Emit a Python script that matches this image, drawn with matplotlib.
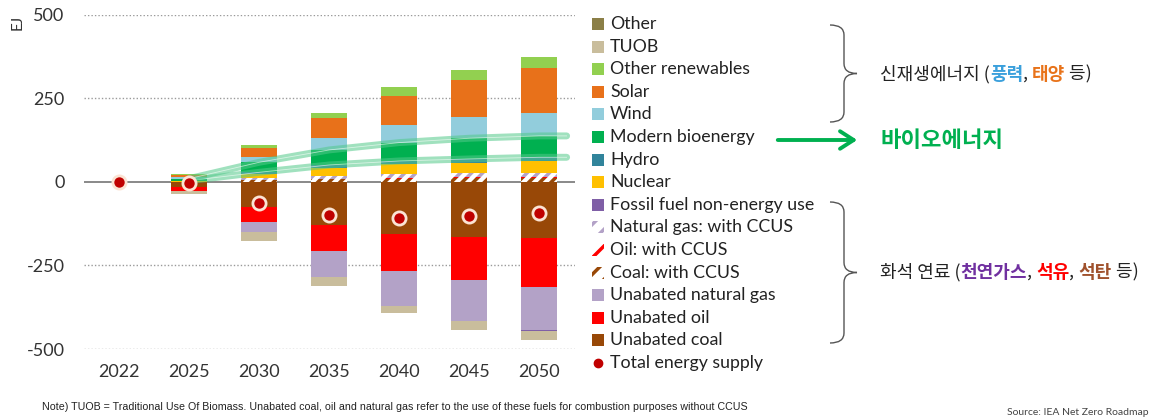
import numpy as np
import matplotlib
matplotlib.use('Agg')
import matplotlib.pyplot as plt
from matplotlib.patches import Rectangle, PathPatch, FancyArrowPatch
from matplotlib.lines import Line2D
from matplotlib.path import Path

plt.rcParams['font.family'] = ['Lato', 'DejaVu Sans']
plt.rcParams['hatch.linewidth'] = 2.5

W, H = 1151, 419

years = ['2022', '2025', '2030', '2035', '2040', '2045', '2050']

# change vs 2022, EJ
other = [0, 0, 0, 0, 0, 0, 0]
tuob = [0, -9, -29, -28, -22, -28, -25]
other_renewables = [0, 3, 8, 17, 25, 30, 32]
solar = [0, 8, 27, 60, 87, 111, 133]
wind = [0, 4, 17, 35, 53, 64, 70]
modern_bio = [0, 6, 30, 45, 55, 62, 64]
hydro = [0, 1, 5, 10, 10, 11, 11]
nuclear = [0, 3, 12, 23, 30, 32, 35]
ff_non_energy = [0, 0, 0, 0, 0, 0, -3]
gas_ccus = [0, 0, 6, 8, 10, 11, 12]
oil_ccus = [0, 0, 1, 2, 3, 3, 4]
coal_ccus = [0, 0, 5, 8, 10, 12, 12]
unabated_gas = [0, 0, -30, -75, -106, -122, -130]
unabated_oil = [0, -12, -44, -80, -109, -130, -145]
unabated_coal = [0, -15, -75, -128, -156, -164, -169]
total_supply = [0, -3, -62, -99, -109, -101, -94]

# (label, values, color, hatched) in stacking order, bottom first
series = [
    ('Unabated coal', unabated_coal, '#984807', False),
    ('Unabated oil', unabated_oil, '#FF0000', False),
    ('Unabated natural gas', unabated_gas, '#B3A2C7', False),
    ('Coal: with CCUS', coal_ccus, '#984807', True),
    ('Oil: with CCUS', oil_ccus, '#FF0000', True),
    ('Natural gas: with CCUS', gas_ccus, '#B3A2C7', True),
    ('Fossil fuel non-energy use', ff_non_energy, '#7F5FA6', False),
    ('Nuclear', nuclear, '#FFC000', False),
    ('Hydro', hydro, '#31849B', False),
    ('Modern bioenergy', modern_bio, '#00B050', False),
    ('Wind', wind, '#92CDDC', False),
    ('Solar', solar, '#E8711A', False),
    ('Other renewables', other_renewables, '#92D050', False),
    ('TUOB', tuob, '#C9BD9C', False),
    ('Other', other, '#8B7F47', False),
]


def fx(px):
    return px / W


def fy(py):
    return 1 - py / H


fig = plt.figure(figsize=(W / 100, H / 100), dpi=100)
ax = fig.add_axes([fx(84), fy(349), (575 - 84) / W, (349 - 15) / H])
renderer = fig.canvas.get_renderer()

x = np.arange(len(years))
pos_base = np.zeros(len(years))
neg_base = np.zeros(len(years))
bio_lo = bio_hi = None
for label, vals, color, hatched in series:
    v = np.array(vals, dtype=float)
    bottom = np.where(v >= 0, pos_base, neg_base)
    if hatched:
        ax.bar(x, v, 0.52, bottom=bottom, facecolor='white', edgecolor=color,
               hatch='///', linewidth=0, zorder=3)
    else:
        ax.bar(x, v, 0.52, bottom=bottom, color=color, linewidth=0, zorder=3)
    if label == 'Modern bioenergy':
        bio_lo = bottom.copy()
        bio_hi = bottom + v
    pos_base = pos_base + np.where(v > 0, v, 0)
    neg_base = neg_base + np.where(v < 0, v, 0)

# bioenergy trace bands from 2025 onwards
bx = np.append(x[1:], 6.39)
for edge in (bio_lo, bio_hi):
    by = np.append(edge[1:], edge[-1])
    ax.plot(bx, by, color='#52C98A', alpha=0.55, lw=5, solid_capstyle='round',
            solid_joinstyle='round', zorder=4)
    ax.plot(bx, by, color='white', alpha=0.6, lw=0.6, zorder=4)

ax.plot(x, total_supply, 'o', ls='none', color='#C00000', ms=9.5,
        mec='#FBE3D3', mew=2, zorder=5)

for v in [500, 250, -250, -500]:
    ax.axhline(v, color='#9A9A9A', lw=1, ls=(0, (1, 1.5)), zorder=0)
ax.axhline(0, color='#808080', lw=1.3, zorder=1)

ax.set_xlim(-0.5, 6.51)
ax.set_ylim(-500, 500)
ax.set_xticks(x)
ax.set_xticklabels(years)
ax.set_yticks([-500, -250, 0, 250, 500])
ax.set_yticklabels(['-500', '-250', '0', '250', '500'])
ax.tick_params(length=0, labelsize=13, colors='#333333')
ax.tick_params(axis='y', pad=14)
ax.tick_params(axis='x', pad=11)
for s in ax.spines.values():
    s.set_visible(False)

fig.text(fx(18), fy(22), 'EJ', rotation=90, fontsize=11, ha='center', va='center',
         color='#333333')

# legend, top to bottom
for i, (label, vals, color, hatched) in enumerate(series[::-1]):
    yc = 24 + 22.6 * i
    if hatched:
        fig.add_artist(Rectangle((fx(592), fy(yc + 6)), 12 / W, 12 / H,
                                 transform=fig.transFigure, facecolor='white',
                                 edgecolor=color, hatch='//', linewidth=0))
    else:
        fig.add_artist(Rectangle((fx(592), fy(yc + 6)), 12 / W, 12 / H,
                                 transform=fig.transFigure, facecolor=color,
                                 linewidth=0))
    fig.text(fx(610), fy(yc), label, fontsize=12.8, va='center', ha='left',
             color='#222222')
yc = 24 + 22.6 * len(series)
fig.add_artist(Line2D([fx(598)], [fy(yc)], marker='o', ms=6, color='#C00000',
                      transform=fig.transFigure))
fig.text(fx(610), fy(yc), 'Total energy supply', fontsize=12.8, va='center',
         ha='left', color='#222222')


def brace(x0, ytop, ybot, w=14, tip=13, r=10):
    ym = (ytop + ybot) / 2
    pts = [(x0, ytop), (x0 + w, ytop), (x0 + w, ytop + r),
           (x0 + w, ym - r), (x0 + w, ym), (x0 + w + tip, ym),
           (x0 + w, ym), (x0 + w, ym + r),
           (x0 + w, ybot - r), (x0 + w, ybot), (x0, ybot)]
    codes = [Path.MOVETO, Path.CURVE3, Path.CURVE3,
             Path.LINETO, Path.CURVE3, Path.CURVE3,
             Path.CURVE3, Path.CURVE3,
             Path.LINETO, Path.CURVE3, Path.CURVE3]
    path = Path([(fx(a), fy(b)) for a, b in pts], codes)
    fig.add_artist(PathPatch(path, transform=fig.transFigure, facecolor='none',
                             edgecolor='#555555', lw=1))


brace(830, 25, 122)
brace(830, 202, 343)

fig.add_artist(FancyArrowPatch(
    (fx(775), fy(140)), (fx(860), fy(140)), transform=fig.transFigure,
    arrowstyle='->,head_length=0.7,head_width=0.45', mutation_scale=14,
    color='#00B050', lw=2.8))

kr = ['Noto Sans CJK KR', 'DejaVu Sans']


def rich_text(x0, yc, parts, size):
    xpos = x0
    for txt, color, weight in parts:
        t = fig.text(fx(xpos), fy(yc), txt, fontsize=size, color=color,
                     fontweight=weight, family=kr, va='center', ha='left')
        xpos += t.get_window_extent(renderer).width


rich_text(880, 74, [('신재생에너지 (', '#222222', 'normal'),
                    ('풍력', '#3BA0DC', 'bold'),
                    (', ', '#222222', 'normal'),
                    ('태양', '#E8731A', 'bold'),
                    (' 등)', '#222222', 'normal')], 13)
rich_text(880, 140, [('바이오에너지', '#00B050', 'bold')], 16)
rich_text(880, 272, [('화석 연료 (', '#222222', 'normal'),
                     ('천연가스', '#7030A0', 'bold'),
                     (', ', '#222222', 'normal'),
                     ('석유', '#FF0000', 'bold'),
                     (', ', '#222222', 'normal'),
                     ('석탄', '#A0522D', 'bold'),
                     (' 등)', '#222222', 'normal')], 13)

# footnote sized to span the chart width
note = fig.text(fx(42), fy(407),
                'Note) TUOB = Traditional Use Of Biomass. Unabated coal, oil and natural gas '
                'refer to the use of these fuels for combustion purposes without CCUS',
                fontsize=9, family=['Liberation Sans', 'DejaVu Sans'],
                va='center', ha='left', color='#222222')
note.set_fontsize(9 * 703 / note.get_window_extent(renderer).width)

fig.text(fx(1149), fy(417), 'Source: IEA Net Zero Roadmap', fontsize=7.5,
         va='bottom', ha='right', color='#444444')

fig.savefig('out.png', dpi=100)
